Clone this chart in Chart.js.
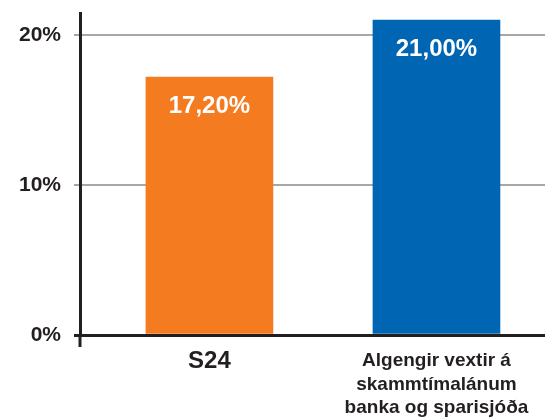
<!DOCTYPE html>
<html>
<head>
<meta charset="utf-8">
<script src="https://cdn.jsdelivr.net/npm/chart.js@4/dist/chart.umd.min.js"></script>
<style>
  body { margin: 0; background: #fff; }
  #wrap { width: 545px; height: 420px; }
</style>
</head>
<body>
<div id="wrap"><canvas id="chart"></canvas></div>
<script>
const categories = [['S24'], ['Algengir vextir á', 'skammtímalánum', 'banka og sparisjóða']];
const values = [17.2, 21.0];
const valueLabels = ['17,20%', '21,00%'];
const yTicks = [0, 10, 20];
const barColors = ['#F47B20', '#0066B3'];

const AXIS = '#231f20';
const FONT = '"Liberation Sans", Arial, sans-serif';

// white value text inside top of each bar
const barLabels = {
    id: 'barLabels',
    afterDatasetsDraw(chart){
        const ctx = chart.ctx;
        const meta = chart.getDatasetMeta(0);
        ctx.save();
        ctx.fillStyle = '#fff';
        ctx.font = 'bold 24px ' + FONT;
        ctx.textAlign = 'center';
        ctx.textBaseline = 'middle';
        meta.data.forEach((bar, i) => {
            ctx.fillText(valueLabels[i], bar.x, bar.y + 29);
        });
        ctx.restore();
    }
};

// small downward stub of the y axis below zero
const axisStub = {
    id: 'axisStub',
    afterDraw(chart){
        const a = chart.chartArea;
        const ctx = chart.ctx;
        ctx.save();
        ctx.strokeStyle = AXIS;
        ctx.lineWidth = 3;
        ctx.beginPath();
        ctx.moveTo(a.left, a.bottom);
        ctx.lineTo(a.left, a.bottom + 12);
        ctx.stroke();
        ctx.restore();
    }
};

new Chart(document.getElementById('chart'), {
    type: 'bar',
    data: {
        datasets: [{
            data: values.map((v, i) => ({x: i, y: v})),
            backgroundColor: barColors,
            borderWidth: 0,
            barThickness: 127
        }]
    },
    options: {
        responsive: true,
        maintainAspectRatio: false,
        animation: false,
        layout: { padding: { top: 13, left: 0, right: 0, bottom: 0 } },
        plugins: {
            legend: { display: false },
            tooltip: { enabled: false }
        },
        scales: {
            x: {
                type: 'linear',
                offset: false,
                min: -0.57,
                max: 1.478,
                afterBuildTicks: scale => { scale.ticks = categories.map((c, i) => ({value: i})); },
                afterFit: scale => {
                    scale.height = 85;
                    scale.paddingLeft = 0;
                    scale.paddingRight = 0;
                },
                grid: { display: false, offset: false },
                border: { color: AXIS, width: 3 },
                ticks: {
                    autoSkip: false,
                    maxRotation: 0,
                    padding: 6,
                    color: '#231f20',
                    font: ctx => ctx.index === 0
                        ? { family: FONT, size: 24, weight: 'bold', lineHeight: 1.0 }
                        : { family: FONT, size: 19, weight: 'bold', lineHeight: 1.24 },
                    callback: value => categories[value]
                }
            },
            y: {
                min: 0,
                max: 21.47,
                afterBuildTicks: scale => { scale.ticks = yTicks.map(v => ({value: v})); },
                afterFit: scale => {
                    scale.width = 80;
                    scale.paddingTop = 0;
                    scale.paddingBottom = 0;
                },
                border: { color: AXIS, width: 3 },
                grid: {
                    color: ctx => ctx.tick && ctx.tick.value === 0 ? AXIS : '#a7a7a7',
                    lineWidth: ctx => ctx.tick && ctx.tick.value === 0 ? 3 : 2,
                    tickLength: 6
                },
                ticks: {
                    padding: 13,
                    color: '#231f20',
                    font: { family: FONT, size: 21, weight: 'bold' },
                    callback: value => value + '%'
                }
            }
        }
    },
    plugins: [barLabels, axisStub]
});
</script>
</body>
</html>
